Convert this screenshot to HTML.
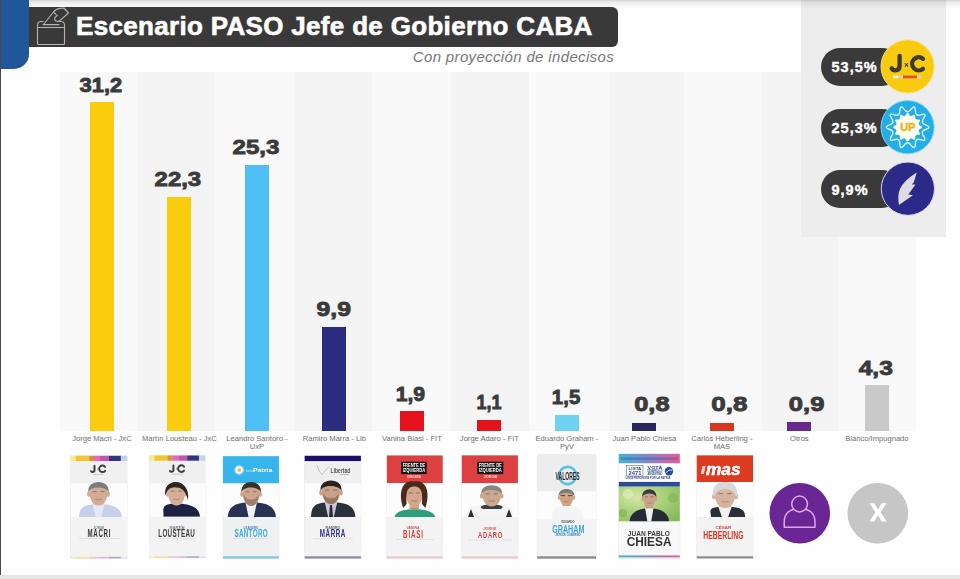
<!DOCTYPE html>
<html><head><meta charset="utf-8">
<style>
html,body{margin:0;padding:0;}
body{width:960px;height:579px;position:relative;overflow:hidden;background:#fefefe;font-family:"Liberation Sans",sans-serif;}
.abs{position:absolute;}
.col{position:absolute;top:72px;height:359.2px;}
.bar{position:absolute;width:24px;}
.val{position:absolute;width:100px;text-align:center;font-weight:bold;font-size:21.5px;line-height:24px;color:#3b3b3b;letter-spacing:0.8px;-webkit-text-stroke:0.4px #3b3b3b;}
.lab{position:absolute;top:434.8px;width:90px;text-align:center;font-size:7.6px;line-height:8.6px;color:#6e6e6e;}
#topband{position:absolute;left:29px;top:0;width:931px;height:9px;background:linear-gradient(rgba(0,0,0,0.17),rgba(0,0,0,0.075) 25%,rgba(0,0,0,0.04) 60%,rgba(0,0,0,0));}
#leftline{position:absolute;left:0;top:0;width:1px;height:579px;background:#4a4a4a;}
#botband{position:absolute;left:0;top:575px;width:960px;height:4px;background:#e6e6e6;}
#tab{position:absolute;left:0;top:0;width:29px;height:69px;background:#20569a;border-bottom-right-radius:15px;}
#title{position:absolute;left:29px;top:7px;width:589px;height:40px;background:#393939;border-radius:0 6px 6px 0;}
#titletxt{position:absolute;left:76px;top:8px;font-size:26px;line-height:36px;font-weight:bold;color:#fff;white-space:nowrap;letter-spacing:0.32px;-webkit-text-stroke:0.6px #fff;}
#sub{position:absolute;left:300px;width:314px;text-align:right;top:48px;font-size:15px;line-height:18px;font-style:italic;color:#777;white-space:nowrap;letter-spacing:0.35px;}
#panel{position:absolute;left:801px;top:0;width:144.5px;height:237.4px;background:#ededed;}
.pill{position:absolute;left:821px;width:80px;height:38px;border-radius:19px;background:#3a3a3a;}
.pilltxt{position:absolute;left:831.5px;font-size:14.5px;line-height:18px;font-weight:bold;color:#fff;letter-spacing:1.0px;-webkit-text-stroke:0.4px #fff;}
.circ{position:absolute;left:880px;width:54px;height:54px;border-radius:50%;}
.card{position:absolute;top:456px;height:102px;background:#f4f4f4;box-shadow:0 0 1px rgba(0,0,0,.25);overflow:hidden;}
</style></head><body>
<div class="col" style="left:60.4px;width:76.4px;background:#f9f9f9"></div>
<div class="col" style="left:136.5px;width:78.6px;background:#f4f4f4"></div>
<div class="col" style="left:214.8px;width:79.3px;background:#f9f9f9"></div>
<div class="col" style="left:293.8px;width:78.5px;background:#f4f4f4"></div>
<div class="col" style="left:372.0px;width:79.3px;background:#f9f9f9"></div>
<div class="col" style="left:451.0px;width:78.3px;background:#f4f4f4"></div>
<div class="col" style="left:529.0px;width:80.1px;background:#f9f9f9"></div>
<div class="col" style="left:608.8px;width:75.3px;background:#f4f4f4"></div>
<div class="col" style="left:683.8px;width:78.1px;background:#f9f9f9"></div>
<div class="col" style="left:761.6px;width:77.5px;background:#f4f4f4"></div>
<div class="col" style="left:838.8px;width:77.5px;background:#f9f9f9"></div>
<div class="bar" style="left:89.9px;top:102.2px;height:328.9px;background:#f9cd0b"></div>
<div class="lab" style="left:56.9px">Jorge Macri - JxC</div>
<div class="bar" style="left:167.4px;top:196.5px;height:234.6px;background:#f9cd0b"></div>
<div class="lab" style="left:134.4px">Martín Lousteau - JxC</div>
<div class="bar" style="left:244.9px;top:164.6px;height:266.5px;background:#4fbef4"></div>
<div class="lab" style="left:211.9px">Leandro Santoro -<br>UxP</div>
<div class="bar" style="left:322.4px;top:326.8px;height:104.3px;background:#2b2c80"></div>
<div class="lab" style="left:289.4px">Ramiro Marra - Lib</div>
<div class="bar" style="left:399.9px;top:411.2px;height:19.9px;background:#e3121c"></div>
<div class="lab" style="left:366.9px">Vanina Biasi - FIT</div>
<div class="bar" style="left:477.4px;top:419.5px;height:11.6px;background:#e3121c"></div>
<div class="lab" style="left:444.4px">Jorge Adaro - FIT</div>
<div class="bar" style="left:554.9px;top:415.1px;height:16.0px;background:#6fd2f0"></div>
<div class="lab" style="left:521.9px">Eduardo Graham -<br>PyV</div>
<div class="bar" style="left:632.4px;top:422.7px;height:8.4px;background:#28255f"></div>
<div class="lab" style="left:599.4px">Juan Pablo Chiesa</div>
<div class="bar" style="left:709.9px;top:422.9px;height:8.2px;background:#d6371f"></div>
<div class="lab" style="left:676.9px">Carlos Heberling -<br>MAS</div>
<div class="bar" style="left:787.4px;top:421.6px;height:9.5px;background:#662a8e"></div>
<div class="lab" style="left:754.4px">Otros</div>
<div class="bar" style="left:864.9px;top:385.4px;height:45.7px;background:#c9c9c9"></div>
<div class="lab" style="left:831.9px">Blanco/Impugnado</div>
<svg class="abs" style="left:0;top:0" width="960" height="440" viewBox="0 0 960 440"><g font-family="Liberation Sans" font-weight="bold" fill="#3b3b3b" stroke="#3b3b3b" stroke-width="0.9"><text x="79.6" y="91.8" font-size="21" textLength="42.7" lengthAdjust="spacingAndGlyphs">31,2</text><text x="154.6" y="186.1" font-size="21" textLength="46.6" lengthAdjust="spacingAndGlyphs">22,3</text><text x="232.5" y="154.2" font-size="21" textLength="47.0" lengthAdjust="spacingAndGlyphs">25,3</text><text x="316.5" y="316.1" font-size="21" textLength="34.4" lengthAdjust="spacingAndGlyphs">9,9</text><text x="395.7" y="400.7" font-size="21" textLength="29.4" lengthAdjust="spacingAndGlyphs">1,9</text><text x="476.4" y="408.8" font-size="21" textLength="25.0" lengthAdjust="spacingAndGlyphs">1,1</text><text x="551.8" y="403.6" font-size="21" textLength="28.5" lengthAdjust="spacingAndGlyphs">1,5</text><text x="634.2" y="411.3" font-size="21" textLength="35.4" lengthAdjust="spacingAndGlyphs">0,8</text><text x="711.2" y="411.2" font-size="21" textLength="36.3" lengthAdjust="spacingAndGlyphs">0,8</text><text x="788.8" y="411.2" font-size="21" textLength="35.6" lengthAdjust="spacingAndGlyphs">0,9</text><text x="858.7" y="375.1" font-size="21" textLength="34.1" lengthAdjust="spacingAndGlyphs">4,3</text></g></svg>
<div id="tab"></div>
<div id="leftline"></div>
<div id="title"></div>
<svg class="abs" style="left:0;top:0" width="80" height="50" viewBox="0 0 80 50"><g fill="none" stroke="#b5b5b5" stroke-width="1.1" stroke-linejoin="round" stroke-linecap="round">
<path d="M43,21.5 L40.5,21.5 Q37.5,21.8 37.5,25.5 L37.5,43.5 Q37.5,44.5 38.5,44.5 L63.5,44.5 Q64.5,44.5 64.5,43.5 L64.5,25.5 Q64.5,21.8 61.5,21.5 L59,21.5"/>
<path d="M37.5,27.5 L64.5,27.5"/>
<path d="M43,24.6 L59,24.6"/>
<path d="M43.5,24.5 L53.5,12 Q56,8.8 60,8.4 L63.8,8 L68.5,13 L59.5,20.8 Q57.5,22.2 55.5,20.8 Q53.6,18.8 55.6,16.9 L57.4,15.3"/>
<path d="M53.5,12 L56.2,14.6"/>
</g></svg>
<div id="titletxt">Escenario PASO Jefe de Gobierno CABA</div>
<div id="sub">Con proyección de indecisos</div>
<div id="panel"></div>
<div id="topband"></div>
<div class="pill" style="top:48px"></div><div class="pilltxt" style="top:58px">53,5%</div>
<div class="pill" style="top:109px"></div><div class="pilltxt" style="top:119px">25,3%</div>
<div class="pill" style="top:170px"></div><div class="pilltxt" style="top:181px">9,9%</div>
<svg class="abs" style="left:860px;top:30px" width="90" height="200" viewBox="860 30 90 200">
<circle cx="907.6" cy="66.5" r="26.6" fill="#f8cb10" stroke="#fbe27a" stroke-width="1"/>
<path d="M899.6,56 L899.6,66 Q899.6,70.3 895.2,70.3 Q892.6,70.3 891.6,68.3" fill="none" stroke="#3d3a32" stroke-width="4.3" stroke-linecap="round"/>
<path d="M923,58.8 A6.6,6.6 0 1 0 923,68.9" fill="none" stroke="#3d3a32" stroke-width="4.3" stroke-linecap="round"/>
<path d="M904.9,63.2 L908.1,66.6 M908.1,63.2 L904.9,66.6" stroke="#3d3a32" stroke-width="1.1"/>
<rect x="893" y="75.6" width="5" height="2.7" fill="#f7f0d8"/><rect x="898" y="75.6" width="5" height="2.7" fill="#d9d2b8"/>
<rect x="903" y="75.6" width="14" height="2.7" fill="#e0532a"/><rect x="917" y="75.6" width="4.5" height="2.7" fill="#d9d2b8"/>
<circle cx="907.6" cy="127.2" r="26.6" fill="#23aee8" stroke="#86d6f6" stroke-width="1"/>
<path d="M914.18,106.94 C916.61,107.73 913.87,112.60 916.71,114.66 C919.55,116.72 923.33,112.61 924.83,114.68 C926.33,116.75 921.26,119.07 922.34,122.41 C923.43,125.75 928.90,124.65 928.90,127.20 C928.90,129.75 923.43,128.65 922.34,131.99 C921.26,135.33 926.33,137.65 924.83,139.72 C923.33,141.79 919.55,137.68 916.71,139.74 C913.87,141.80 916.61,146.67 914.18,147.46 C911.75,148.25 911.11,142.70 907.60,142.70 C904.09,142.70 903.45,148.25 901.02,147.46 C898.59,146.67 901.33,141.80 898.49,139.74 C895.65,137.68 891.87,141.79 890.37,139.72 C888.87,137.65 893.94,135.33 892.86,131.99 C891.77,128.65 886.30,129.75 886.30,127.20 C886.30,124.65 891.77,125.75 892.86,122.41 C893.94,119.07 888.87,116.75 890.37,114.68 C891.87,112.61 895.65,116.72 898.49,114.66 C901.33,112.60 898.59,107.73 901.02,106.94 C903.45,106.15 904.09,111.70 907.60,111.70 C911.11,111.70 911.75,106.15 914.18,106.94 Z" fill="none" stroke="#dff6ff" stroke-width="1.4"/>
<path d="M907.60,113.00 C909.20,113.00 908.71,115.49 910.60,116.00 C912.50,116.50 913.31,114.10 914.70,114.90 C916.09,115.70 914.42,117.61 915.80,119.00 C917.19,120.38 919.10,118.71 919.90,120.10 C920.70,121.49 918.30,122.30 918.80,124.20 C919.31,126.09 921.80,125.60 921.80,127.20 C921.80,128.80 919.31,128.31 918.80,130.20 C918.30,132.10 920.70,132.91 919.90,134.30 C919.10,135.69 917.19,134.02 915.80,135.40 C914.42,136.79 916.09,138.70 914.70,139.50 C913.31,140.30 912.50,137.90 910.60,138.40 C908.71,138.91 909.20,141.40 907.60,141.40 C906.00,141.40 906.49,138.91 904.60,138.40 C902.70,137.90 901.89,140.30 900.50,139.50 C899.11,138.70 900.78,136.79 899.40,135.40 C898.01,134.02 896.10,135.69 895.30,134.30 C894.50,132.91 896.90,132.10 896.40,130.20 C895.89,128.31 893.40,128.80 893.40,127.20 C893.40,125.60 895.89,126.09 896.40,124.20 C896.90,122.30 894.50,121.49 895.30,120.10 C896.10,118.71 898.01,120.38 899.40,119.00 C900.78,117.61 899.11,115.70 900.50,114.90 C901.89,114.10 902.70,116.50 904.60,116.00 C906.49,115.49 906.00,113.00 907.60,113.00 Z" fill="#fffef0"/>
<text x="907.6" y="131.3" text-anchor="middle" font-family="Liberation Sans" font-weight="bold" font-size="11" fill="#eeb020" stroke="#eeb020" stroke-width="0.4" letter-spacing="-0.4">UP</text>
<circle cx="907.9" cy="188.7" r="26.6" fill="#2b2a88" stroke="#d8d6f4" stroke-width="1"/>
<path d="M916.8,172.5 L913.7,182.5 L911.7,184.6 L915.5,184.6 L909.2,193.2 L907.9,194.3 L913,195.3 L898.9,205 Q897.3,195 900,189 Q904,180 916.8,172.5 Z" fill="#dcdce2"/>
</svg>
<svg class="abs" style="left:0;top:0" width="960" height="579" viewBox="0 0 960 579"><defs><filter id="soft" x="-5%" y="-5%" width="110%" height="110%"><feGaussianBlur stdDeviation="0.3"/></filter></defs><g filter="url(#soft)"><rect x="70.6" y="455.8" width="56.4" height="102.7" fill="#f6f6f6" stroke="#e2e2e2" stroke-width="0.6"/><rect x="70.6" y="461.0" width="56.4" height="22.5" fill="#f0f0f0" /><rect x="70.6" y="455.8" width="5.3" height="5.2" fill="#f4ee8a" /><rect x="75.7" y="455.8" width="13.7" height="5.2" fill="#f2c62a" /><rect x="89.2" y="455.8" width="4.7" height="5.2" fill="#d8903a" /><rect x="93.7" y="455.8" width="6.4" height="5.2" fill="#e46ab2" /><rect x="99.9" y="455.8" width="9.2" height="5.2" fill="#c653b4" /><rect x="109.0" y="455.8" width="12.0" height="5.2" fill="#34347e" /><rect x="120.8" y="455.8" width="6.4" height="5.2" fill="#c4d0ee" /><path d="M94.5,465.7 L94.5,470.3 Q94.5,472.0 92.5,472.0 Q91.5,472.0 91.1,471.2" fill="none" stroke="#404040" stroke-width="2" stroke-linecap="round"/><path d="M105.1,466.8 A3.3,3.3 0 1 0 105.1,470.8" fill="none" stroke="#404040" stroke-width="2" stroke-linecap="round"/><circle cx="97.8" cy="469.0" r="0.7" fill="#888"/><rect x="93.1" y="474.0" width="10.0" height="0.8" fill="#c8a0a0" opacity="0.7"/><rect x="70.6" y="483.5" width="56.4" height="33.5" fill="#fcfcfc" /><path d="M79.0,517.0 C79.5,509.0 81.0,504.5 98.5,504.0 C116.0,504.5 121.2,509.0 121.7,517.0 Z" fill="#c7d0ea"/><path d="M92.3,503.5 L104.7,503.5 L101.2,517.0 L95.8,517.0 Z" fill="#e4e8f4"/><rect x="93.4" y="500.5" width="10.1" height="4.0" fill="#d2ab96" /><rect x="93.4" y="502.8" width="10.1" height="1.2" fill="#000" opacity="0.12"/><ellipse cx="88.8" cy="494.1" rx="1.8" ry="2.8" fill="#d2ab96"/><ellipse cx="108.2" cy="494.1" rx="1.8" ry="2.8" fill="#d2ab96"/><path d="M89.3,490.8 C89.3,480.7 107.7,480.7 107.7,490.8 C107.7,499.2 104.3,505.5 98.5,505.5 C92.7,505.5 89.3,499.2 89.3,490.8 Z" fill="#d2ab96"/><path d="M92.7,491.6 h3.9 M100.5,491.6 h3.9" stroke="#5a4035" stroke-width="0.9" opacity="0.6"/><path d="M95.2,499.2 Q98.5,500.4 101.8,499.2" stroke="#7a4a3a" stroke-width="0.8" fill="none" opacity="0.5"/><path d="M88.4,492.3 C86.4,478.7 110.6,478.7 108.6,492.3 C106.7,486.5 90.3,485.3 88.4,492.3 Z" fill="#7d7d7d"/><rect x="70.6" y="517.0" width="56.4" height="39.3" fill="#f3f3f3" /><text x="93.6" y="528.8" font-family="Liberation Sans" font-weight="bold" font-size="2.90" fill="#777" textLength="10.8" lengthAdjust="spacingAndGlyphs">JORGE</text><text transform="translate(87.50,536.90) scale(0.62,1)" font-family="Liberation Sans" font-weight="bold" font-size="10.00" fill="#353535">M</text><text transform="translate(93.31,536.90) scale(0.62,1)" font-family="Liberation Sans" font-weight="bold" font-size="10.00" fill="#353535">A</text><text transform="translate(98.43,536.90) scale(0.62,1)" font-family="Liberation Sans" font-weight="bold" font-size="10.00" fill="#353535">C</text><text transform="translate(103.56,536.90) scale(0.62,1)" font-family="Liberation Sans" font-weight="bold" font-size="10.00" fill="#353535">R</text><text transform="translate(108.68,536.90) scale(0.62,1)" font-family="Liberation Sans" font-weight="bold" font-size="10.00" fill="#353535">I</text><rect x="79.0" y="538.0" width="41.0" height="0.9" fill="#dedede" /><g opacity="0.4"><rect x="70.6" y="556.8" width="5.3" height="1.5" fill="#f4ee8a" /><rect x="75.7" y="556.8" width="13.7" height="1.5" fill="#f2c62a" /><rect x="89.2" y="556.8" width="4.7" height="1.5" fill="#d8903a" /><rect x="93.7" y="556.8" width="6.4" height="1.5" fill="#e46ab2" /><rect x="99.9" y="556.8" width="9.2" height="1.5" fill="#c653b4" /><rect x="109.0" y="556.8" width="12.0" height="1.5" fill="#34347e" /><rect x="120.8" y="556.8" width="6.4" height="1.5" fill="#c4d0ee" /></g><rect x="149.4" y="455.5" width="55.6" height="102.3" fill="#f6f6f6" stroke="#e2e2e2" stroke-width="0.6"/><rect x="149.4" y="460.7" width="55.6" height="22.8" fill="#f0f0f0" /><rect x="149.4" y="455.5" width="5.2" height="5.2" fill="#f4ee8a" /><rect x="154.4" y="455.5" width="13.5" height="5.2" fill="#f2c62a" /><rect x="167.7" y="455.5" width="4.6" height="5.2" fill="#d8903a" /><rect x="172.2" y="455.5" width="6.3" height="5.2" fill="#e46ab2" /><rect x="178.3" y="455.5" width="9.1" height="5.2" fill="#c653b4" /><rect x="187.2" y="455.5" width="11.9" height="5.2" fill="#34347e" /><rect x="198.9" y="455.5" width="6.3" height="5.2" fill="#c4d0ee" /><path d="M173.4,465.5 L173.4,470.1 Q173.4,471.8 171.4,471.8 Q170.4,471.8 170.0,471.0" fill="none" stroke="#404040" stroke-width="2" stroke-linecap="round"/><path d="M184.0,466.6 A3.3,3.3 0 1 0 184.0,470.6" fill="none" stroke="#404040" stroke-width="2" stroke-linecap="round"/><circle cx="176.7" cy="468.8" r="0.7" fill="#888"/><rect x="172.0" y="473.8" width="10.0" height="0.8" fill="#c8a0a0" opacity="0.7"/><rect x="149.4" y="483.5" width="55.6" height="33.3" fill="#fcfcfc" /><path d="M163.5,516.8 C164.0,508.5 159.8,504.0 176.5,503.5 C193.2,504.0 199.5,508.5 200.0,516.8 Z" fill="#1b2440"/><rect x="171.7" y="500.5" width="9.6" height="3.5" fill="#d4ae98" /><rect x="171.7" y="502.3" width="9.6" height="1.2" fill="#000" opacity="0.12"/><ellipse cx="167.2" cy="493.8" rx="1.7" ry="2.9" fill="#d4ae98"/><ellipse cx="185.8" cy="493.8" rx="1.7" ry="2.9" fill="#d4ae98"/><path d="M167.8,490.4 C167.8,480.0 185.2,480.0 185.2,490.4 C185.2,499.0 182.1,505.5 176.5,505.5 C170.9,505.5 167.8,499.0 167.8,490.4 Z" fill="#d4ae98"/><path d="M170.9,491.2 h3.7 M178.3,491.2 h3.7" stroke="#5a4035" stroke-width="0.9" opacity="0.6"/><path d="M173.4,499.0 Q176.5,500.3 179.6,499.0" stroke="#7a4a3a" stroke-width="0.8" fill="none" opacity="0.5"/><path d="M165.4,495.6 C161.7,476.9 191.3,476.4 188.0,500.3 C185.8,489.9 180.2,487.3 174.7,487.3 C169.1,487.8 167.2,489.9 165.4,495.6 Z" fill="#2b2622"/><rect x="149.4" y="516.8" width="55.6" height="39.2" fill="#f3f3f3" /><text x="169.6" y="528.8" font-family="Liberation Sans" font-weight="bold" font-size="2.90" fill="#777" textLength="14.8" lengthAdjust="spacingAndGlyphs">MARTÍN</text><text transform="translate(158.30,537.00) scale(0.62,1)" font-family="Liberation Sans" font-weight="bold" font-size="10.14" fill="#3a3a3a">L</text><text transform="translate(162.41,537.00) scale(0.62,1)" font-family="Liberation Sans" font-weight="bold" font-size="10.14" fill="#3a3a3a">O</text><text transform="translate(167.58,537.00) scale(0.62,1)" font-family="Liberation Sans" font-weight="bold" font-size="10.14" fill="#3a3a3a">U</text><text transform="translate(172.39,537.00) scale(0.62,1)" font-family="Liberation Sans" font-weight="bold" font-size="10.14" fill="#3a3a3a">S</text><text transform="translate(176.86,537.00) scale(0.62,1)" font-family="Liberation Sans" font-weight="bold" font-size="10.14" fill="#3a3a3a">T</text><text transform="translate(180.98,537.00) scale(0.62,1)" font-family="Liberation Sans" font-weight="bold" font-size="10.14" fill="#3a3a3a">E</text><text transform="translate(185.44,537.00) scale(0.62,1)" font-family="Liberation Sans" font-weight="bold" font-size="10.14" fill="#3a3a3a">A</text><text transform="translate(190.26,537.00) scale(0.62,1)" font-family="Liberation Sans" font-weight="bold" font-size="10.14" fill="#3a3a3a">U</text><rect x="159.0" y="538.3" width="37.0" height="0.9" fill="#dedede" /><g opacity="0.4"><rect x="149.4" y="556.3" width="5.2" height="1.5" fill="#f4ee8a" /><rect x="154.4" y="556.3" width="13.5" height="1.5" fill="#f2c62a" /><rect x="167.7" y="556.3" width="4.6" height="1.5" fill="#d8903a" /><rect x="172.2" y="556.3" width="6.3" height="1.5" fill="#e46ab2" /><rect x="178.3" y="556.3" width="9.1" height="1.5" fill="#c653b4" /><rect x="187.2" y="556.3" width="11.9" height="1.5" fill="#34347e" /><rect x="198.9" y="556.3" width="6.3" height="1.5" fill="#c4d0ee" /></g><rect x="223.0" y="456.2" width="55.9" height="102.3" fill="#f6f6f6" stroke="#e2e2e2" stroke-width="0.6"/><rect x="223.0" y="456.2" width="55.9" height="27.3" fill="#35b5ec" /><circle cx="239.2" cy="470" r="5" fill="#8fd8f6"/><circle cx="239.2" cy="470" r="3.6" fill="#ffffff"/><circle cx="239.2" cy="470" r="1.9" fill="#f3c43a"/><text x="246.1" y="471.5" font-family="Liberation Sans" font-weight="normal" font-size="3.19" fill="#d8f2fc" textLength="7.3" lengthAdjust="spacingAndGlyphs">fuerza</text><text x="253.1" y="471.6" font-family="Liberation Sans" font-weight="bold" font-size="5.51" fill="#ffffff" textLength="19.3" lengthAdjust="spacingAndGlyphs">Patria</text><rect x="223.0" y="483.5" width="55.9" height="33.5" fill="#fcfcfc" /><path d="M227.8,517.3 C228.3,507.0 234.5,502.5 251.2,502.0 C267.8,502.5 275.5,507.0 276.0,517.3 Z" fill="#2a3152"/><path d="M245.3,501.5 L257.1,501.5 L253.8,517.3 L248.6,517.3 Z" fill="#f2f2f2"/><rect x="246.4" y="501.0" width="9.6" height="1.5" fill="#cfa790" /><rect x="246.4" y="500.8" width="9.6" height="1.2" fill="#000" opacity="0.12"/><ellipse cx="241.9" cy="494.3" rx="1.7" ry="2.8" fill="#cfa790"/><ellipse cx="260.4" cy="494.3" rx="1.7" ry="2.8" fill="#cfa790"/><path d="M242.5,491.0 C242.5,480.6 259.9,480.6 259.9,491.0 C259.9,499.5 256.8,506.0 251.2,506.0 C245.6,506.0 242.5,499.5 242.5,491.0 Z" fill="#cfa790"/><path d="M245.6,491.8 h3.7 M253.0,491.8 h3.7" stroke="#5a4035" stroke-width="0.9" opacity="0.6"/><path d="M248.1,499.5 Q251.2,500.8 254.3,499.5" stroke="#7a4a3a" stroke-width="0.8" fill="none" opacity="0.5"/><path d="M241.6,492.5 C239.7,478.5 262.7,478.5 260.8,492.5 C259.0,486.6 243.4,485.3 241.6,492.5 Z" fill="#3a3028"/><path d="M243.7,494 Q244,505.5 251.2,506 Q258.4,505.5 258.7,494 Q256,500 251.2,500 Q246.4,500 243.7,494 Z" fill="#6a5040" opacity="0.45"/><rect x="223.0" y="517.0" width="55.9" height="39.3" fill="#eef0f2" /><text x="243.6" y="528.8" font-family="Liberation Sans" font-weight="bold" font-size="2.90" fill="#4a86b8" textLength="14.8" lengthAdjust="spacingAndGlyphs">LEANDRO</text><text transform="translate(234.40,537.00) scale(0.62,1)" font-family="Liberation Sans" font-weight="bold" font-size="10.14" fill="#3ea9e2">S</text><text transform="translate(238.90,537.00) scale(0.62,1)" font-family="Liberation Sans" font-weight="bold" font-size="10.14" fill="#3ea9e2">A</text><text transform="translate(243.75,537.00) scale(0.62,1)" font-family="Liberation Sans" font-weight="bold" font-size="10.14" fill="#3ea9e2">N</text><text transform="translate(248.61,537.00) scale(0.62,1)" font-family="Liberation Sans" font-weight="bold" font-size="10.14" fill="#3ea9e2">T</text><text transform="translate(252.76,537.00) scale(0.62,1)" font-family="Liberation Sans" font-weight="bold" font-size="10.14" fill="#3ea9e2">O</text><text transform="translate(257.96,537.00) scale(0.62,1)" font-family="Liberation Sans" font-weight="bold" font-size="10.14" fill="#3ea9e2">R</text><text transform="translate(262.81,537.00) scale(0.62,1)" font-family="Liberation Sans" font-weight="bold" font-size="10.14" fill="#3ea9e2">O</text><rect x="233.0" y="538.3" width="35.0" height="0.9" fill="#dedede" /><rect x="223.0" y="556.3" width="55.9" height="2.2" fill="#7fc4ea" /><rect x="304.7" y="455.8" width="56.2" height="102.7" fill="#f6f6f6" stroke="#e2e2e2" stroke-width="0.6"/><rect x="304.7" y="455.8" width="56.2" height="5.5" fill="#1c116c" /><rect x="304.7" y="461.3" width="56.2" height="22.0" fill="#efefef" /><path d="M317,465 L319,471 L322,474.5 L326,470 L329,466.5" fill="none" stroke="#b0b0b0" stroke-width="0.7"/><text x="330.6" y="472.6" font-family="Liberation Sans" font-weight="bold" font-size="6.38" fill="#555" textLength="19.8" lengthAdjust="spacingAndGlyphs">Libertad</text><text x="339.6" y="474.6" font-family="Liberation Sans" font-weight="bold" font-size="2.03" fill="#777" textLength="9.8" lengthAdjust="spacingAndGlyphs">AVANZA</text><rect x="304.7" y="483.2" width="56.2" height="33.8" fill="#fcfcfc" /><path d="M311.0,517.3 C311.5,507.0 313.0,502.5 331.0,502.0 C349.0,502.5 354.9,507.0 355.4,517.3 Z" fill="#2b303a"/><path d="M324.6,501.5 L337.4,501.5 L333.8,517.3 L328.2,517.3 Z" fill="#c8c8d8"/><rect x="325.8" y="499.2" width="10.4" height="3.3" fill="#c9a088" /><rect x="325.8" y="500.8" width="10.4" height="1.2" fill="#000" opacity="0.12"/><ellipse cx="321.0" cy="492.7" rx="1.8" ry="2.8" fill="#c9a088"/><ellipse cx="341.0" cy="492.7" rx="1.8" ry="2.8" fill="#c9a088"/><path d="M321.6,489.4 C321.6,479.1 340.4,479.1 340.4,489.4 C340.4,497.8 337.0,504.2 331.0,504.2 C325.0,504.2 321.6,497.8 321.6,489.4 Z" fill="#c9a088"/><path d="M325.0,490.1 h4.0 M333.0,490.1 h4.0" stroke="#5a4035" stroke-width="0.9" opacity="0.6"/><path d="M327.6,497.8 Q331.0,499.1 334.4,497.8" stroke="#7a4a3a" stroke-width="0.8" fill="none" opacity="0.5"/><path d="M320.6,490.9 C318.6,477.1 343.4,477.1 341.4,490.9 C339.4,485.0 322.6,483.7 320.6,490.9 Z" fill="#2a2420"/><path d="M323.3,493 Q323.8,504 331,504.2 Q338.2,504 338.7,493 Q336,499 331,499 Q326,499 323.3,493 Z" fill="#5a4032" opacity="0.45"/><path d="M330,505 L332,505 L333,517.3 L329,517.3 Z" fill="#2a2a3a"/><rect x="304.7" y="517.0" width="56.2" height="39.3" fill="#f3f3f3" /><text x="325.6" y="528.8" font-family="Liberation Sans" font-weight="bold" font-size="2.90" fill="#666" textLength="14.8" lengthAdjust="spacingAndGlyphs">RAMIRO</text><text transform="translate(319.80,537.00) scale(0.62,1)" font-family="Liberation Sans" font-weight="bold" font-size="10.14" fill="#2c2a8a">M</text><text transform="translate(325.59,537.00) scale(0.62,1)" font-family="Liberation Sans" font-weight="bold" font-size="10.14" fill="#2c2a8a">A</text><text transform="translate(330.68,537.00) scale(0.62,1)" font-family="Liberation Sans" font-weight="bold" font-size="10.14" fill="#2c2a8a">R</text><text transform="translate(335.77,537.00) scale(0.62,1)" font-family="Liberation Sans" font-weight="bold" font-size="10.14" fill="#2c2a8a">R</text><text transform="translate(340.86,537.00) scale(0.62,1)" font-family="Liberation Sans" font-weight="bold" font-size="10.14" fill="#2c2a8a">A</text><rect x="313.0" y="538.3" width="40.0" height="0.9" fill="#dedede" /><rect x="304.7" y="556.3" width="56.2" height="2.2" fill="#8a8aa2" /><rect x="386.9" y="455.5" width="55.8" height="102.8" fill="#f6f6f6" stroke="#e2e2e2" stroke-width="0.6"/><rect x="386.9" y="455.5" width="55.8" height="27.7" fill="#dc4040" /><rect x="401.2" y="461.7" width="25.5" height="12.4" fill="#161616" /><text x="402.7" y="467.3" font-family="Liberation Sans" font-weight="bold" font-size="4.6" fill="#fff" textLength="22.5" lengthAdjust="spacingAndGlyphs">FRENTE DE</text><text x="402.7" y="472.2" font-family="Liberation Sans" font-weight="bold" font-size="4.6" fill="#fff" textLength="22.5" lengthAdjust="spacingAndGlyphs">IZQUIERDA</text><text x="407.1" y="478.4" font-family="Liberation Sans" font-weight="bold" font-size="3.19" fill="#ffd8d8" textLength="13.8" lengthAdjust="spacingAndGlyphs">VIRGINIA</text><rect x="386.9" y="483.2" width="55.8" height="33.8" fill="#fcfcfc" /><path d="M394.6,517.0 C395.1,514.0 398.1,509.5 414.3,509.0 C430.5,509.5 434.7,514.0 435.2,517.0 Z" fill="#2f9f7c"/><rect x="409.6" y="502.0" width="9.4" height="7.5" fill="#d4a68a" /><rect x="409.6" y="507.8" width="9.4" height="1.2" fill="#000" opacity="0.12"/><ellipse cx="405.3" cy="495.5" rx="1.6" ry="2.8" fill="#d4a68a"/><ellipse cx="423.3" cy="495.5" rx="1.6" ry="2.8" fill="#d4a68a"/><path d="M405.8,492.2 C405.8,482.0 422.8,482.0 422.8,492.2 C422.8,500.6 419.7,507.0 414.3,507.0 C408.9,507.0 405.8,500.6 405.8,492.2 Z" fill="#d4a68a"/><path d="M408.9,493.0 h3.6 M416.1,493.0 h3.6" stroke="#5a4035" stroke-width="0.9" opacity="0.6"/><path d="M411.2,500.6 Q414.3,501.9 417.4,500.6" stroke="#7a4a3a" stroke-width="0.8" fill="none" opacity="0.5"/><path d="M403.1,508.0 C397.2,489.1 404.4,479.5 414.3,481.5 C424.2,479.5 431.4,489.1 425.5,508.0 L421.9,504.0 C423.3,489.1 419.7,487.1 414.3,486.6 C408.9,487.1 405.3,489.1 406.7,504.0 Z" fill="#4a2c1e"/><rect x="386.9" y="517.0" width="55.8" height="39.3" fill="#f3f3f3" /><text x="406.6" y="529.3" font-family="Liberation Sans" font-weight="bold" font-size="2.90" fill="#c55" textLength="12.8" lengthAdjust="spacingAndGlyphs">VANINA</text><text transform="translate(403.10,537.50) scale(0.62,1)" font-family="Liberation Sans" font-weight="bold" font-size="10.00" fill="#d83c3c">B</text><text transform="translate(408.39,537.50) scale(0.62,1)" font-family="Liberation Sans" font-weight="bold" font-size="10.00" fill="#d83c3c">I</text><text transform="translate(410.93,537.50) scale(0.62,1)" font-family="Liberation Sans" font-weight="bold" font-size="10.00" fill="#d83c3c">A</text><text transform="translate(416.23,537.50) scale(0.62,1)" font-family="Liberation Sans" font-weight="bold" font-size="10.00" fill="#d83c3c">S</text><text transform="translate(421.18,537.50) scale(0.62,1)" font-family="Liberation Sans" font-weight="bold" font-size="10.00" fill="#d83c3c">I</text><rect x="396.0" y="539.0" width="38.0" height="0.9" fill="#dedede" /><rect x="386.9" y="556.3" width="55.8" height="2.0" fill="#ecc8c8" /><rect x="461.8" y="455.4" width="56.1" height="102.9" fill="#f6f6f6" stroke="#e2e2e2" stroke-width="0.6"/><rect x="461.8" y="455.4" width="56.1" height="27.9" fill="#dc4040" /><rect x="477.3" y="461.7" width="26.0" height="12.4" fill="#161616" /><text x="478.8" y="467.3" font-family="Liberation Sans" font-weight="bold" font-size="4.6" fill="#fff" textLength="23.0" lengthAdjust="spacingAndGlyphs">FRENTE DE</text><text x="478.8" y="472.2" font-family="Liberation Sans" font-weight="bold" font-size="4.6" fill="#fff" textLength="23.0" lengthAdjust="spacingAndGlyphs">IZQUIERDA</text><text x="483.6" y="478.4" font-family="Liberation Sans" font-weight="bold" font-size="3.19" fill="#ffd8d8" textLength="13.8" lengthAdjust="spacingAndGlyphs">JORGE</text><rect x="461.8" y="483.3" width="56.1" height="33.7" fill="#fcfcfc" /><path d="M466.6,517 C467,509 470,506.5 478,505.5 L505,505.5 C511,506.5 513,509 513,517 Z" fill="#f4f4f4"/><path d="M468,517 L471,509 L474,517 Z M512,517 L509,509 L506,517 Z" fill="#2d2d35"/><path d="M483.0,509.0 C483.5,509.5 473.7,505.0 491.7,504.5 C509.7,505.0 500.0,509.5 500.5,509.0 Z" fill="#3a3f4a"/><rect x="486.5" y="501.5" width="10.4" height="3.5" fill="#cba890" /><rect x="486.5" y="503.3" width="10.4" height="1.2" fill="#000" opacity="0.12"/><ellipse cx="481.7" cy="496.1" rx="1.8" ry="2.5" fill="#cba890"/><ellipse cx="501.7" cy="496.1" rx="1.8" ry="2.5" fill="#cba890"/><path d="M482.3,493.2 C482.3,484.0 501.1,484.0 501.1,493.2 C501.1,500.8 497.7,506.5 491.7,506.5 C485.7,506.5 482.3,500.8 482.3,493.2 Z" fill="#cba890"/><path d="M485.7,493.9 h4.0 M493.7,493.9 h4.0" stroke="#5a4035" stroke-width="0.9" opacity="0.6"/><path d="M488.3,500.8 Q491.7,501.9 495.1,500.8" stroke="#7a4a3a" stroke-width="0.8" fill="none" opacity="0.5"/><path d="M481.3,494.5 C479.3,482.1 504.1,482.1 502.1,494.5 C500.1,489.2 483.3,488.1 481.3,494.5 Z" fill="#858585"/><rect x="461.8" y="517.0" width="56.1" height="39.3" fill="#f3f3f3" /><text x="483.6" y="529.8" font-family="Liberation Sans" font-weight="bold" font-size="2.90" fill="#c55" textLength="12.8" lengthAdjust="spacingAndGlyphs">JORGE</text><text transform="translate(478.00,537.90) scale(0.62,1)" font-family="Liberation Sans" font-weight="bold" font-size="9.57" fill="#d83c3c">A</text><text transform="translate(482.95,537.90) scale(0.62,1)" font-family="Liberation Sans" font-weight="bold" font-size="9.57" fill="#d83c3c">D</text><text transform="translate(487.89,537.90) scale(0.62,1)" font-family="Liberation Sans" font-weight="bold" font-size="9.57" fill="#d83c3c">A</text><text transform="translate(492.84,537.90) scale(0.62,1)" font-family="Liberation Sans" font-weight="bold" font-size="9.57" fill="#d83c3c">R</text><text transform="translate(497.79,537.90) scale(0.62,1)" font-family="Liberation Sans" font-weight="bold" font-size="9.57" fill="#d83c3c">O</text><rect x="468.0" y="539.5" width="44.0" height="0.9" fill="#dedede" /><rect x="461.8" y="556.3" width="56.1" height="2.0" fill="#ecc8c8" /><rect x="537.2" y="454.7" width="58.8" height="103.9" fill="#f6f6f6" stroke="#e2e2e2" stroke-width="0.6"/><rect x="537.2" y="454.7" width="58.8" height="36.8" fill="#ededed" /><circle cx="567.6" cy="475.5" r="8.6" fill="none" stroke="#5cc0e2" stroke-width="2.6"/><text x="555.5" y="479.9" font-family="Liberation Sans" font-weight="bold" font-size="10.58" fill="#2a2a2a" textLength="24.1" lengthAdjust="spacingAndGlyphs">VALORES</text><rect x="537.2" y="491.5" width="58.8" height="28.0" fill="#fcfcfc" /><path d="M552.0,519.5 C552.5,510.5 553.0,506.0 566.5,505.5 C580.0,506.0 582.5,510.5 583.0,519.5 Z" fill="#f4f4f4"/><rect x="562.6" y="501.0" width="7.8" height="5.0" fill="#d0a484" /><rect x="562.6" y="504.3" width="7.8" height="1.2" fill="#000" opacity="0.12"/><ellipse cx="559.0" cy="497.7" rx="1.3" ry="2.0" fill="#d0a484"/><ellipse cx="574.0" cy="497.7" rx="1.3" ry="2.0" fill="#d0a484"/><path d="M559.5,495.3 C559.5,487.9 573.5,487.9 573.5,495.3 C573.5,501.4 571.0,506.0 566.5,506.0 C562.0,506.0 559.5,501.4 559.5,495.3 Z" fill="#d0a484"/><path d="M562.0,495.8 h3.0 M568.0,495.8 h3.0" stroke="#5a4035" stroke-width="0.9" opacity="0.6"/><path d="M564.0,501.4 Q566.5,502.3 569.0,501.4" stroke="#7a4a3a" stroke-width="0.8" fill="none" opacity="0.5"/><path d="M558.7,496.4 C557.2,486.4 575.8,486.4 574.3,496.4 C572.8,492.1 560.2,491.2 558.7,496.4 Z" fill="#7d7a78"/><path d="M560.5,495.5 h4.5 M568,495.5 h4.5" stroke="#444" stroke-width="0.8"/><rect x="537.2" y="519.5" width="58.8" height="36.8" fill="#f3f3f3" /><text x="561.6" y="523.3" font-family="Liberation Sans" font-weight="bold" font-size="2.90" fill="#555" textLength="12.8" lengthAdjust="spacingAndGlyphs">EDUARDO</text><text x="552.2" y="533.3" font-family="Liberation Sans" font-weight="bold" font-size="11.59" fill="#3ba6dc" textLength="32.2" lengthAdjust="spacingAndGlyphs">GRAHAM</text><text x="555.6" y="536.0" font-family="Liberation Sans" font-weight="bold" font-size="2.61" fill="#3a7db8" textLength="24.8" lengthAdjust="spacingAndGlyphs">JEFE DE GOBIERNO</text><rect x="537.2" y="556.3" width="58.8" height="2.3" fill="#8c8c8c" /><rect x="618.8" y="453.9" width="61.0" height="104.4" fill="#f6f6f6" stroke="#e2e2e2" stroke-width="0.6"/><defs><linearGradient id="gch" x1="0" x2="1"><stop offset="0" stop-color="#43b4d6"/><stop offset="0.45" stop-color="#7d8ac8"/><stop offset="1" stop-color="#ea5a96"/></linearGradient><radialGradient id="ggr" cx="0.3" cy="0.3" r="0.9"><stop offset="0" stop-color="#d4e8a4"/><stop offset="0.5" stop-color="#a8d07a"/><stop offset="1" stop-color="#84b85a"/></radialGradient></defs><rect x="618.8" y="453.9" width="61.0" height="9.6" fill="url(#gch)" /><rect x="620.8" y="457.3" width="57.0" height="2.6" fill="#2b4b98" opacity="0.35"/><rect x="618.8" y="463.5" width="61.0" height="18.4" fill="#ffffff" /><rect x="626.6" y="465.5" width="16.4" height="10.5" fill="#ffffff" stroke="#5a6aa8" stroke-width="0.6"/><text x="628.6" y="470.0" font-family="Liberation Sans" font-weight="bold" font-size="4.35" fill="#2d4a8a" textLength="12.8" lengthAdjust="spacingAndGlyphs">LISTA</text><text x="628.6" y="475.0" font-family="Liberation Sans" font-weight="bold" font-size="5.07" fill="#2d4a8a" textLength="12.8" lengthAdjust="spacingAndGlyphs">2471</text><text x="647.6" y="469.0" font-family="Liberation Sans" font-weight="bold" font-size="2.90" fill="#2d4a8a" textLength="14.8" lengthAdjust="spacingAndGlyphs">VOTÁ</text><text x="647.6" y="472.0" font-family="Liberation Sans" font-weight="bold" font-size="2.90" fill="#2d4a8a" textLength="14.8" lengthAdjust="spacingAndGlyphs">DESARROLLO</text><text x="647.6" y="475.0" font-family="Liberation Sans" font-weight="bold" font-size="2.90" fill="#2d4a8a" textLength="14.8" lengthAdjust="spacingAndGlyphs">ARGENTINO</text><circle cx="669" cy="471.3" r="4.2" fill="#2a4c9a"/><path d="M665.5,473 Q669,469 672.5,470" stroke="#fff" stroke-width="0.8" fill="none"/><text x="625.6" y="479.3" font-family="Liberation Sans" font-weight="bold" font-size="2.90" fill="#2d4a8a" textLength="44.8" lengthAdjust="spacingAndGlyphs">LISTA PERONISTA POR LA PATRIA</text><rect x="618.8" y="481.9" width="61.0" height="4.8" fill="#2b4b98" /><rect x="618.8" y="486.7" width="61.0" height="34.8" fill="url(#ggr)"/><circle cx="628" cy="494" r="5" fill="#e4f0c0" opacity="0.6"/><circle cx="673" cy="498" r="5" fill="#78b050" opacity="0.5"/><circle cx="623" cy="513" r="4" fill="#7ab050" opacity="0.6"/><path d="M629.5,521.5 C630.0,513.0 637.1,508.5 649.3,508.0 C661.4,508.5 668.6,513.0 669.1,521.5 Z" fill="#272b34"/><path d="M645.0,507.5 L653.6,507.5 L651.2,521.5 L647.4,521.5 Z" fill="#f0f0f0"/><rect x="645.8" y="503.0" width="7.0" height="5.5" fill="#cba28c" /><rect x="645.8" y="506.8" width="7.0" height="1.2" fill="#000" opacity="0.12"/><ellipse cx="642.5" cy="498.9" rx="1.2" ry="2.2" fill="#cba28c"/><ellipse cx="656.0" cy="498.9" rx="1.2" ry="2.2" fill="#cba28c"/><path d="M643.0,496.2 C643.0,488.1 655.6,488.1 655.6,496.2 C655.6,502.9 653.3,508.0 649.3,508.0 C645.2,508.0 643.0,502.9 643.0,496.2 Z" fill="#cba28c"/><path d="M645.2,496.8 h2.7 M650.6,496.8 h2.7" stroke="#5a4035" stroke-width="0.9" opacity="0.6"/><path d="M647.0,502.9 Q649.3,503.9 651.6,502.9" stroke="#7a4a3a" stroke-width="0.8" fill="none" opacity="0.5"/><path d="M642.3,497.4 C640.9,486.5 657.7,486.5 656.3,497.4 C655.0,492.8 643.6,491.8 642.3,497.4 Z" fill="#3a3a3a"/><rect x="618.8" y="521.5" width="61.0" height="34.5" fill="#f8f8f8" /><text x="627.8" y="535.6" font-family="Liberation Sans" font-weight="bold" font-size="7.25" fill="#3a3a3a" textLength="42.1" lengthAdjust="spacingAndGlyphs">JUAN PABLO</text><text x="626.7" y="546.4" font-family="Liberation Sans" font-weight="bold" font-size="12.32" fill="#333333" textLength="44.8" lengthAdjust="spacingAndGlyphs">CHIESA</text><rect x="618.8" y="555.4" width="61.0" height="2.0" fill="url(#gch)" /><rect x="696.8" y="455.4" width="56.2" height="103.0" fill="#f6f6f6" stroke="#e2e2e2" stroke-width="0.6"/><rect x="696.8" y="455.4" width="56.2" height="26.6" fill="#dc3a22" /><text x="706" y="475.3" font-family="Liberation Sans" font-weight="bold" font-style="italic" font-size="16.5" fill="#fff" stroke="#fff" stroke-width="0.5" textLength="34.5" lengthAdjust="spacingAndGlyphs">mas</text><path d="M702.5,466 L705.5,466 L703.8,474 L700.8,474 Z" fill="#fff" opacity="0.8"/><rect x="696.8" y="482.0" width="56.2" height="35.0" fill="#fcfcfc" /><path d="M711.0,517.0 C711.5,511.5 705.2,507.0 725.0,506.5 C744.8,507.0 744.7,511.5 745.2,517.0 Z" fill="#2a2e38"/><path d="M718.0,506.0 L732.0,506.0 L728.1,517.0 L721.9,517.0 Z" fill="#f0f0f0"/><rect x="719.3" y="503.0" width="11.4" height="4.0" fill="#d6b4a0" /><rect x="719.3" y="505.3" width="11.4" height="1.2" fill="#000" opacity="0.12"/><ellipse cx="714.0" cy="496.3" rx="2.0" ry="2.9" fill="#d6b4a0"/><ellipse cx="736.0" cy="496.3" rx="2.0" ry="2.9" fill="#d6b4a0"/><path d="M714.7,492.9 C714.7,482.5 735.3,482.5 735.3,492.9 C735.3,501.5 731.6,508.0 725.0,508.0 C718.4,508.0 714.7,501.5 714.7,492.9 Z" fill="#d6b4a0"/><path d="M718.4,493.7 h4.4 M727.2,493.7 h4.4" stroke="#5a4035" stroke-width="0.9" opacity="0.6"/><path d="M721.3,501.5 Q725.0,502.8 728.7,501.5" stroke="#7a4a3a" stroke-width="0.8" fill="none" opacity="0.5"/><path d="M712.9,496.3 C711.4,483.3 720.6,482.0 725.0,482.0 C729.4,482.0 738.6,483.3 737.1,496.3 L734.9,495.0 C733.8,487.2 716.2,487.2 715.1,495.0 Z" fill="#d8d8d8"/><rect x="696.8" y="517.0" width="56.2" height="39.3" fill="#f3f3f3" /><text x="715.6" y="529.2" font-family="Liberation Sans" font-weight="bold" font-size="3.48" fill="#c44" textLength="15.8" lengthAdjust="spacingAndGlyphs">CÉSAR</text><text transform="translate(703.20,539.10) scale(0.62,1)" font-family="Liberation Sans" font-weight="bold" font-size="11.01" fill="#d8361f">H</text><text transform="translate(708.14,539.10) scale(0.62,1)" font-family="Liberation Sans" font-weight="bold" font-size="11.01" fill="#d8361f">E</text><text transform="translate(712.71,539.10) scale(0.62,1)" font-family="Liberation Sans" font-weight="bold" font-size="11.01" fill="#d8361f">B</text><text transform="translate(717.65,539.10) scale(0.62,1)" font-family="Liberation Sans" font-weight="bold" font-size="11.01" fill="#d8361f">E</text><text transform="translate(722.21,539.10) scale(0.62,1)" font-family="Liberation Sans" font-weight="bold" font-size="11.01" fill="#d8361f">R</text><text transform="translate(727.16,539.10) scale(0.62,1)" font-family="Liberation Sans" font-weight="bold" font-size="11.01" fill="#d8361f">L</text><text transform="translate(731.34,539.10) scale(0.62,1)" font-family="Liberation Sans" font-weight="bold" font-size="11.01" fill="#d8361f">I</text><text transform="translate(733.25,539.10) scale(0.62,1)" font-family="Liberation Sans" font-weight="bold" font-size="11.01" fill="#d8361f">N</text><text transform="translate(738.19,539.10) scale(0.62,1)" font-family="Liberation Sans" font-weight="bold" font-size="11.01" fill="#d8361f">G</text><rect x="696.8" y="556.3" width="56.2" height="2.1" fill="#8a8a8a" /><circle cx="799.8" cy="513.2" r="30.3" fill="#6b2594"/><path d="M784.2,527.2 L784.2,522 Q784.5,508.8 799.6,508.8 Q814.8,508.8 815,522 L815,527.2 Z" fill="none" stroke="#dba8f2" stroke-width="1.5" stroke-linejoin="round"/><circle cx="799.6" cy="504" r="7.9" fill="#6b2594" stroke="#dba8f2" stroke-width="1.5"/><circle cx="877.8" cy="513.2" r="30.3" fill="#c6c6c6"/><path d="M869.5,503.3 L874.3,503.3 L878,509.5 L881.7,503.3 L886.5,503.3 L880.6,512.3 L886.6,521.4 L881.8,521.4 L878,515.2 L874.2,521.4 L869.4,521.4 L875.4,512.3 Z" fill="#ffffff"/></g></svg>
<div id="botband"></div>
</body></html>
